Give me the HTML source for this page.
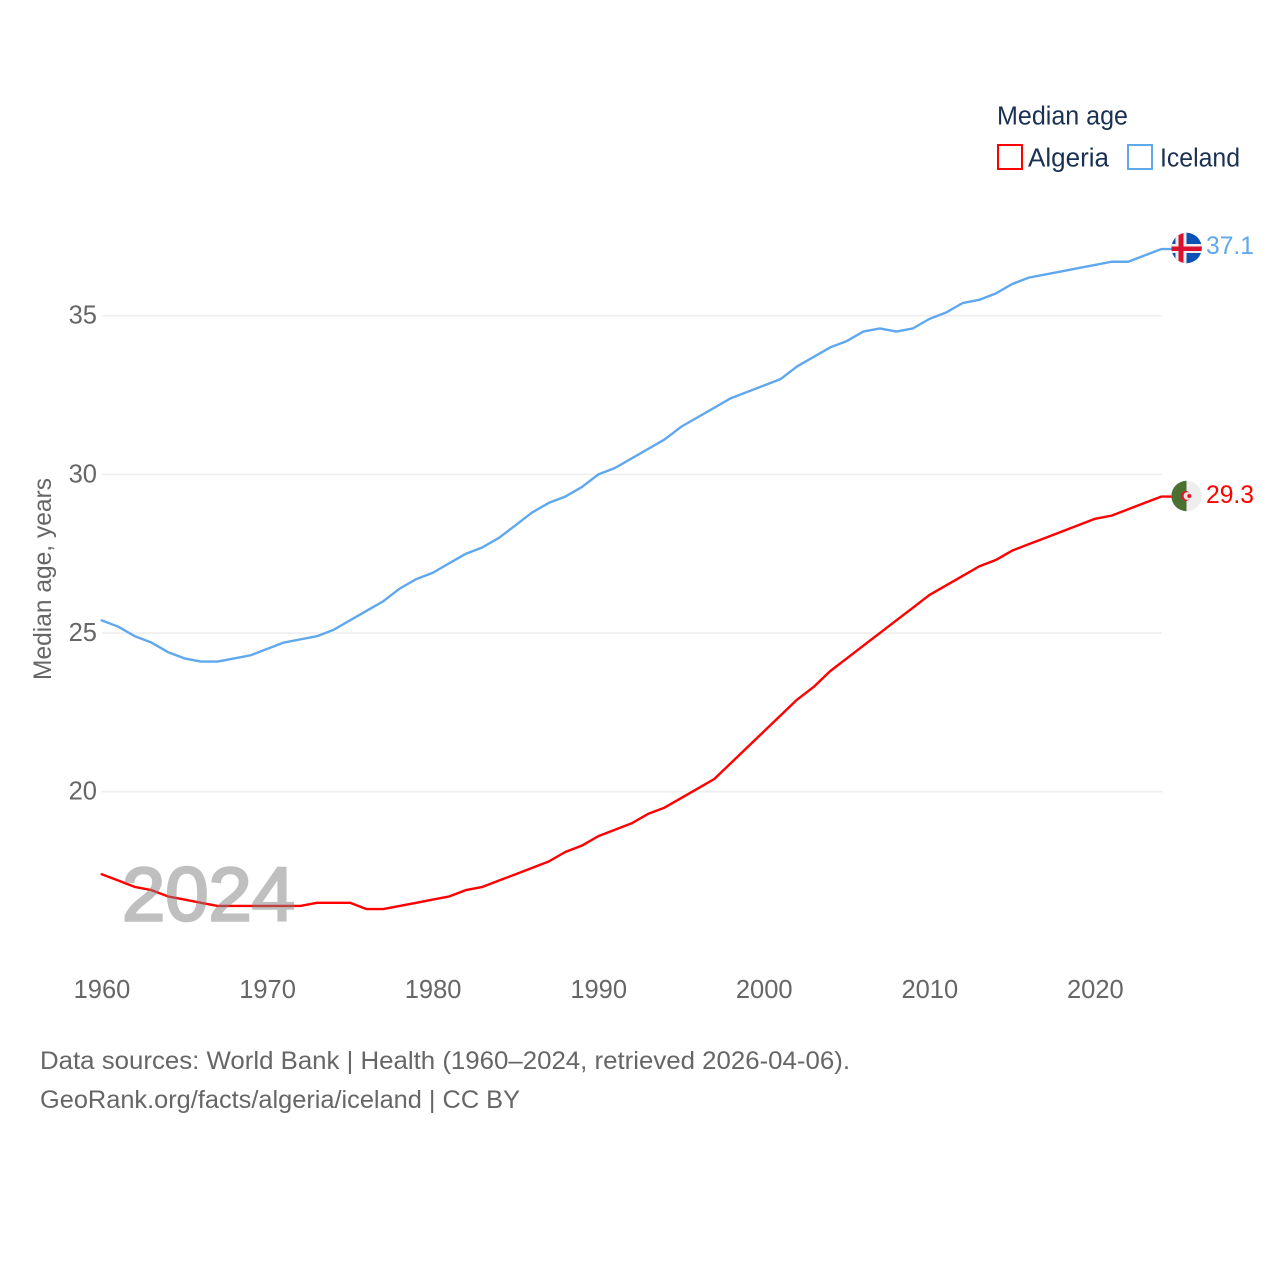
<!DOCTYPE html>
<html lang="en">
<head>
<meta charset="utf-8">
<title>Median age: Algeria and Iceland</title>
<style>
html,body{margin:0;padding:0;background:#fff;width:1280px;height:1280px;overflow:hidden}
svg{display:block}
text{font-family:"Liberation Sans",sans-serif}
</style>
</head>
<body>
<svg id="chart" xmlns="http://www.w3.org/2000/svg" width="1280" height="1280" viewBox="0 0 1280 1280">
  <defs>
    <clipPath id="clip-is"><circle cx="1186.6" cy="248" r="15.2"/></clipPath>
    <clipPath id="clip-dz"><circle cx="1186.6" cy="496" r="15.2"/></clipPath>
  </defs>
  <rect x="0" y="0" width="1280" height="1280" fill="#fff"/>
  <g id="grid"></g>
  <g id="yticks"></g>
  <g id="xticks"></g>
  <text transform="translate(51,680) rotate(-90)" font-size="25" fill="#666" textLength="202" lengthAdjust="spacingAndGlyphs">Median age, years</text>
  <g id="series"></g>
  <text x="122" y="920.5" font-size="76" font-weight="400" fill="#808080" stroke="#808080" stroke-width="2.6" opacity="0.5" textLength="173" lengthAdjust="spacingAndGlyphs">2024</text>

  <g>
    <text x="997" y="124.5" font-size="25.5" fill="#1a3152" textLength="131" lengthAdjust="spacingAndGlyphs">Median age</text>
    <g>
      <rect x="998" y="145" width="24" height="24" fill="none" stroke="#ff0000" stroke-width="2"/>
      <text x="1028" y="166.5" font-size="25.5" fill="#1a3152" textLength="81" lengthAdjust="spacingAndGlyphs">Algeria</text>
    </g>
    <g>
      <rect x="1128" y="145" width="24" height="24" fill="none" stroke="#5fa8ee" stroke-width="2"/>
      <text x="1160" y="166.5" font-size="25.5" fill="#1a3152" textLength="80" lengthAdjust="spacingAndGlyphs">Iceland</text>
    </g>
  </g>

  <g clip-path="url(#clip-is)">
    <rect x="1171" y="232" width="32" height="32" fill="#0b52b4"/>
    <rect x="1171" y="244" width="32" height="9" fill="#eeeeee"/>
    <rect x="1175.5" y="232" width="11" height="32" fill="#eeeeee"/>
    <rect x="1171" y="246.5" width="32" height="4.5" fill="#d8122f"/>
    <rect x="1178.5" y="232" width="5" height="32" fill="#d8122f"/>
  </g>
  <g clip-path="url(#clip-dz)">
    <rect x="1171" y="480" width="15.5" height="32" fill="#4c7032"/>
    <rect x="1186.5" y="480" width="16" height="32" fill="#eeeeee"/>
    <circle cx="1186" cy="496" r="5" fill="#e0182d"/>
    <circle cx="1187.6" cy="496" r="4" fill="#f2dcdc"/>
    <circle cx="1189.3" cy="496" r="2" fill="#e0182d"/>
  </g>
  <text id="value-iceland" x="1206" y="254" font-size="25" fill="#5fa8ee" textLength="48" lengthAdjust="spacingAndGlyphs"></text>
  <text id="value-algeria" x="1206" y="503" font-size="25" fill="#ff0000" textLength="48" lengthAdjust="spacingAndGlyphs"></text>

  <text x="40" y="1069" font-size="25" fill="#666" textLength="810" lengthAdjust="spacingAndGlyphs">Data sources: World Bank | Health (1960–2024, retrieved 2026-04-06).</text>
  <text x="40" y="1108" font-size="25" fill="#666" textLength="480" lengthAdjust="spacingAndGlyphs">GeoRank.org/facts/algeria/iceland | CC BY</text>
</svg>
<script>
const startYear = 1960;
const xTickLabels = [1960, 1970, 1980, 1990, 2000, 2010, 2020];
const yTickLabels = [20, 25, 30, 35];
const iceland = [25.4,25.2,24.9,24.7,24.4,24.2,24.1,24.1,24.2,24.3,24.5,24.7,24.8,24.9,25.1,25.4,25.7,26.0,26.4,26.7,26.9,27.2,27.5,27.7,28.0,28.4,28.8,29.1,29.3,29.6,30.0,30.2,30.5,30.8,31.1,31.5,31.8,32.1,32.4,32.6,32.8,33.0,33.4,33.7,34.0,34.2,34.5,34.6,34.5,34.6,34.9,35.1,35.4,35.5,35.7,36.0,36.2,36.3,36.4,36.5,36.6,36.7,36.7,36.9,37.1];
const algeria = [17.4,17.2,17.0,16.9,16.7,16.6,16.5,16.4,16.4,16.4,16.4,16.4,16.4,16.5,16.5,16.5,16.3,16.3,16.4,16.5,16.6,16.7,16.9,17.0,17.2,17.4,17.6,17.8,18.1,18.3,18.6,18.8,19.0,19.3,19.5,19.8,20.1,20.4,20.9,21.4,21.9,22.4,22.9,23.3,23.8,24.2,24.6,25.0,25.4,25.8,26.2,26.5,26.8,27.1,27.3,27.6,27.8,28.0,28.2,28.4,28.6,28.7,28.9,29.1,29.3];

const NS = 'http://www.w3.org/2000/svg';
function xScale(year){ return 101.7 + (year - 1960) * (1059.6 / 64); }
function yScale(v){ return 791.7 - (v - 20) * (476 / 15); }
function make(tag, attrs, parent){
  const el = document.createElementNS(NS, tag);
  for (const k in attrs) el.setAttribute(k, attrs[k]);
  parent.appendChild(el);
  return el;
}

const grid = document.getElementById('grid');
const yticks = document.getElementById('yticks');
yTickLabels.forEach(function(v){
  const y = yScale(v);
  const line = make('line', {x1:102, x2:1162, y1:y, y2:y, stroke:'#eeeeee', 'stroke-width':1.6}, grid);
  
  
  const t = make('text', {x:97, y:y + 8, 'font-size':25.5, fill:'#666', 'text-anchor':'end'}, yticks);
  
  
  t.textContent = v;
});

const xticks = document.getElementById('xticks');
xTickLabels.forEach(function(yr){
  const t = make('text', {x:xScale(yr) + 0.3, y:998, 'font-size':25.5, fill:'#666', 'text-anchor':'middle'}, xticks);
  
  
  t.textContent = yr;
});

const seriesGroup = document.getElementById('series');
function drawSeries(values, color){
  let d = '';
  values.forEach(function(v, i){
    d += (i ? 'L' : 'M') + xScale(startYear + i).toFixed(2) + ' ' + yScale(v).toFixed(2);
  });
  const last = yScale(values[values.length - 1]);
  d += 'L1172 ' + last.toFixed(2);
  const p = make('path', {d:d, fill:'none', stroke:color, 'stroke-width':2.4, 'stroke-linejoin':'round', 'stroke-linecap':'round'}, seriesGroup);
  return p;
}
const icelandLine = drawSeries(iceland, '#5fa8ee');


const algeriaLine = drawSeries(algeria, '#ff0000');



document.getElementById('value-iceland').textContent = iceland[iceland.length - 1].toFixed(1);
document.getElementById('value-algeria').textContent = algeria[algeria.length - 1].toFixed(1);
</script>
</body>
</html>
